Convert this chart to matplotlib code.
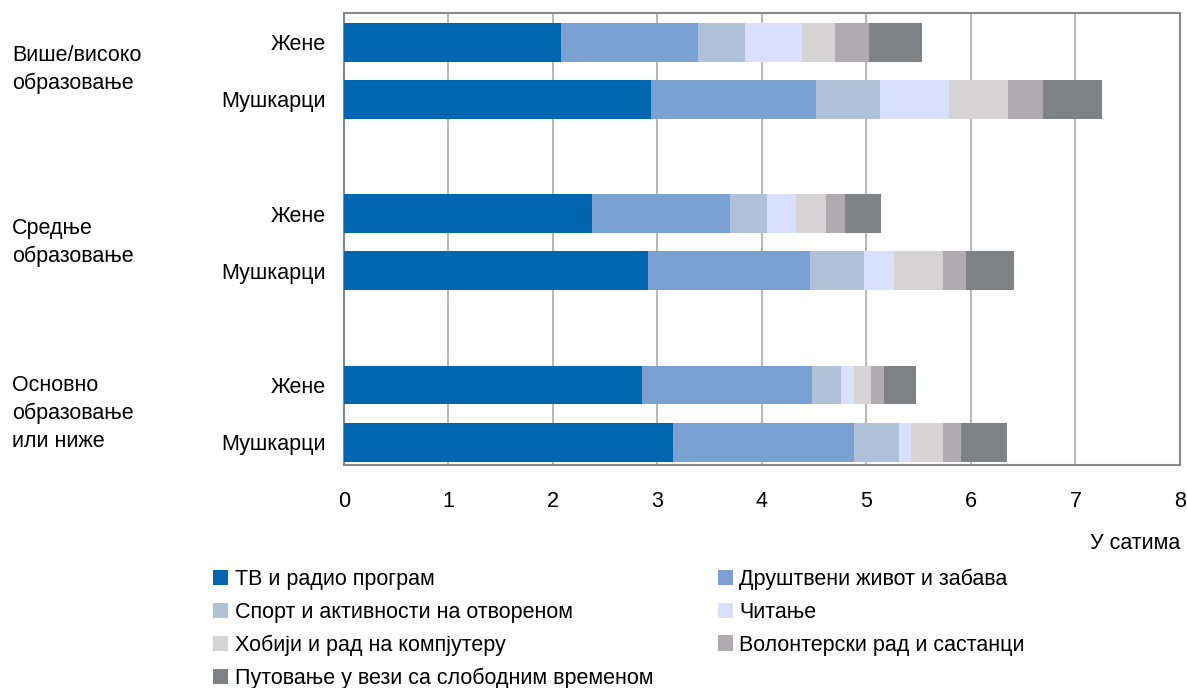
import numpy as np
import matplotlib
matplotlib.use('Agg')
import matplotlib.pyplot as plt

plt.rcParams['font.family'] = ['Liberation Sans', 'DejaVu Sans']

# редови одоздо нагоре
row_labels = ['Мушкарци', 'Жене', 'Мушкарци', 'Жене', 'Мушкарци', 'Жене']
row_pos = [0, 1, 3, 4, 6, 7]
groups = ['Основно\nобразовање\nили ниже', 'Средње\nобразовање', 'Више/високо\nобразовање']

activities = ['ТВ и радио програм', 'Друштвени живот и забава',
              'Спорт и активности на отвореном', 'Читање',
              'Хобији и рад на компјутеру', 'Волонтерски рад и састанци',
              'Путовање у вези са слободним временом']
colors = ['#0066B0', '#7AA1D2', '#B0C1DA', '#D8E0FE', '#D5D3D4', '#B0ABAE', '#7E8285']

# сати по активности, редом као row_labels
tv        = [3.15, 2.85, 2.91, 2.37, 2.94, 2.08]
social    = [1.73, 1.63, 1.55, 1.32, 1.58, 1.31]
sport     = [0.43, 0.28, 0.52, 0.36, 0.61, 0.45]
reading   = [0.12, 0.12, 0.28, 0.28, 0.66, 0.54]
hobby     = [0.30, 0.16, 0.47, 0.28, 0.56, 0.32]
volunteer = [0.17, 0.13, 0.22, 0.18, 0.34, 0.32]
travel    = [0.44, 0.30, 0.46, 0.35, 0.56, 0.51]

series = [tv, social, sport, reading, hobby, volunteer, travel]
FS = 15.5

fig = plt.figure(figsize=(11.87, 6.88), dpi=100)
ax = fig.add_axes([0.2898, 0.3241, 0.7043, 0.6570])

left = np.zeros(len(row_pos))
handles = []
for vals, col, name in zip(series, colors, activities):
    b = ax.barh(row_pos, vals, left=left, height=0.68, color=col, label=name, zorder=3)
    handles.append(b)
    left += np.array(vals)

ax.set_xlim(0, 8)
ax.set_ylim(-0.40, 7.51)
ax.set_xticks(range(0, 9))
ax.set_yticks(row_pos)
ax.set_yticklabels(row_labels)
ax.tick_params(axis='both', length=0, labelsize=FS)
ax.tick_params(axis='x', pad=19)
ax.tick_params(axis='y', pad=13)
ax.grid(axis='x', color='#AAAAAA', linewidth=1.2, zorder=0)
for s in ax.spines.values():
    s.set_color('#888888')
    s.set_linewidth(1.5)

ax.set_xlabel('У сатима', fontsize=FS, loc='right', labelpad=15)

# називи група уз леву ивицу слике
tr = matplotlib.transforms.blended_transform_factory(fig.transFigure, ax.transData)
group_y = [0.5, 3.5, 6.52]
for g, yy in zip(groups, group_y):
    ax.text(12 / 1187, yy, g, transform=tr, fontsize=FS,
            ha='left', va='center', linespacing=1.42)

order = [0, 2, 4, 6, 1, 3, 5]
leg = fig.legend([handles[i] for i in order], [activities[i] for i in order],
                 ncol=2, loc='upper left', bbox_to_anchor=(213 / 1187, 1 - 569 / 688),
                 frameon=False, fontsize=FS, handlelength=0.7, handleheight=0.7,
                 handletextpad=0.3, columnspacing=3.0, labelspacing=0.54,
                 borderaxespad=0, borderpad=0)

fig.savefig('out.png', dpi=100)
